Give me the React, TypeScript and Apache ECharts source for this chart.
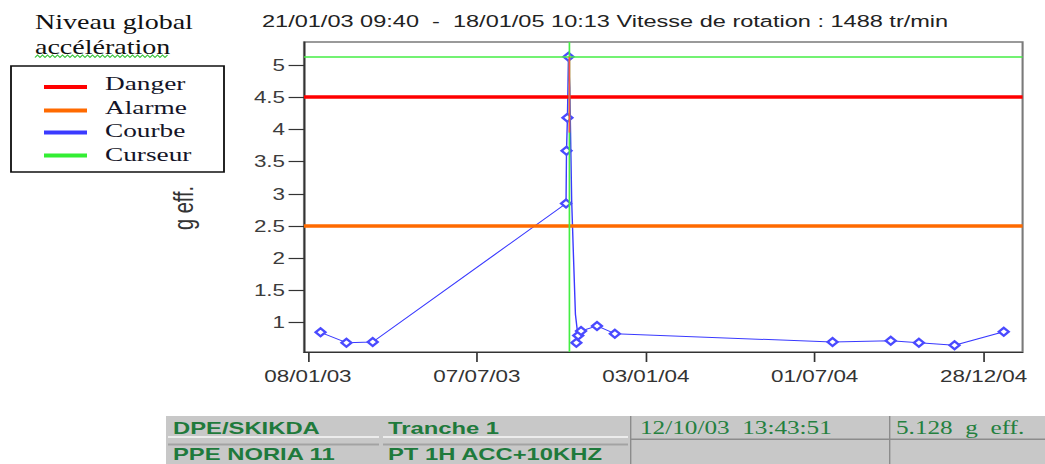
import React, { useEffect, useRef } from "react";
import * as echarts from "echarts";

// Horizontal stretch of the reference picture (text and marks are widened)
const FULL_W = 1045;
const BASE_W = 746;
const H = 464;
const S = FULL_W / BASE_W;
const sx = (x: number) => x / S;

// ---------- data ----------
const headerText = "21/01/03 09:40  -  18/01/05 10:13 Vitesse de rotation : 1488 tr/min";
const chartTitleLines = ["Niveau global", "accélération"];
const legendNames = ["Danger", "Alarme", "Courbe", "Curseur"];
const legendColors = ["#ff0000", "#ff6a00", "#3a3aff", "#33ee33"];
const yAxisName = "g eff.";

const curveDates = [
  "2003-01-21T09:40:00Z",
  "2003-02-18T00:00:00Z",
  "2003-03-18T00:00:00Z",
  "2003-10-10T00:00:00Z",
  "2003-10-10T12:00:00Z",
  "2003-10-11T00:00:00Z",
  "2003-10-11T12:00:00Z",
  "2003-10-12T13:43:51Z",
  "2003-10-14T00:00:00Z",
  "2003-10-15T00:00:00Z",
  "2003-10-16T00:00:00Z",
  "2003-10-18T00:00:00Z",
  "2003-10-20T00:00:00Z",
  "2003-10-22T00:00:00Z",
  "2003-10-21T00:00:00Z",
  "2003-10-23T00:00:00Z",
  "2003-10-26T00:00:00Z",
  "2003-11-12T00:00:00Z",
  "2003-12-01T00:00:00Z",
  "2004-07-20T00:00:00Z",
  "2004-09-20T00:00:00Z",
  "2004-10-20T00:00:00Z",
  "2004-11-27T00:00:00Z",
  "2005-01-18T10:13:00Z",
];
const curveValues = [
  0.85, 0.69, 0.7, 2.85, 3.67, 3.92, 4.18, 5.128, 4.65, 3.78, 2.9, 2.0, 1.13, 0.88,
  0.69, 0.8, 0.87, 0.95, 0.83, 0.7, 0.72, 0.69, 0.65, 0.86,
];
const curveMarked = [
  true, true, true, true, true, false, true, true, false, false, false, false, false, false,
  true, true, true, true, true, true, true, true, true, true,
];

const dangerLevel = 4.5;
const alarmLevel = 2.5;
const cursorDate = "2003-10-12T13:43:51Z";
const cursorValue = 5.128;
const cursorTraceBottom = 3.95;

const yTicks = [1, 1.5, 2, 2.5, 3, 3.5, 4, 4.5, 5];
const xTickDates = ["2003-01-08", "2003-07-07", "2004-01-03", "2004-07-01", "2004-12-28"];
const xMin = "2003-01-03T18:00:00Z";
const xMax = "2005-02-07T12:00:00Z";
const yMin = 0.545;
const yMax = 5.357;

const tableRow1 = ["DPE/SKIKDA", "Tranche 1", "12/10/03  13:43:51", "5.128  g  eff."];
const tableRow2 = ["PPE NORIA 11", "PT 1H ACC+10KHZ", "", ""];

// ---------- helpers ----------
const pad = (n: number) => (n < 10 ? "0" + n : "" + n);
const fmtDate = (v: number) => {
  const d = new Date(v);
  return pad(d.getUTCDate()) + "/" + pad(d.getUTCMonth() + 1) + "/" + pad(d.getUTCFullYear() % 100);
};

const SANS = '"Liberation Sans", Arial, sans-serif';
const SERIF = '"Liberation Serif", "Times New Roman", serif';

export default function App() {
  const ref = useRef<HTMLDivElement>(null);

  useEffect(() => {
    if (!ref.current) return;
    const chart = echarts.init(ref.current, undefined, { renderer: "svg" });
    const cursorTs = Date.parse(cursorDate);
    const xTicks = xTickDates.map((d) => Date.parse(d));

    const graphics: any[] = [];
    graphics.push({
      type: "text",
      x: sx(262),
      y: 21,
      style: { text: headerText, font: `16.8px ${SANS}`, fill: "#222", textVerticalAlign: "middle" },
    });
    chartTitleLines.forEach((t, i) => {
      graphics.push({
        type: "text",
        x: sx(35),
        y: 22 + i * 25,
        style: { text: t, font: `20px ${SERIF}`, fill: "#111", textVerticalAlign: "middle" },
      });
    });
    const squig: number[][] = [];
    for (let x = 35, k = 0; x <= 168; x += 2.5, k++) squig.push([sx(x), k % 2 ? 55 : 57.5]);
    graphics.push({ type: "polyline", shape: { points: squig }, style: { stroke: "#3ec43e", lineWidth: 1, fill: null } });
    graphics.push({
      type: "rect",
      shape: { x: sx(11), y: 66, width: sx(224) - sx(11), height: 106 },
      style: { fill: "#fff", stroke: "#111", lineWidth: 1.3 },
    });
    const lineYs = [87, 110.5, 132.5, 155.5];
    const textYs = [83.5, 107, 130, 154];
    legendNames.forEach((n, i) => {
      graphics.push({
        type: "line",
        shape: { x1: sx(44), y1: lineYs[i], x2: sx(87), y2: lineYs[i] },
        style: { stroke: legendColors[i], lineWidth: 4 },
      });
      graphics.push({
        type: "text",
        x: sx(105),
        y: textYs[i],
        style: { text: n, font: `19.5px ${SERIF}`, fill: "#141428", textVerticalAlign: "middle" },
      });
    });
    graphics.push({
      type: "text",
      x: sx(183),
      y: 208,
      rotation: Math.PI / 2,
      style: { text: yAxisName, font: `20px ${SANS}`, fill: "#333", textAlign: "center", textVerticalAlign: "middle" },
    });
    graphics.push({
      type: "rect",
      shape: { x: sx(166), y: 416, width: BASE_W - sx(166), height: 48 },
      style: { fill: "#c8c8c8" },
    });
    const cellX = [168, 383, 632, 892];
    const cellEnd = [379, 628, 890, 1045];
    [0, 1].forEach((c) => {
      graphics.push({
        type: "rect",
        shape: { x: sx(cellX[c]), y: 436, width: sx(cellEnd[c]) - sx(cellX[c]), height: 2 },
        style: { fill: "#ececec" },
      });
      graphics.push({
        type: "rect",
        shape: { x: sx(cellX[c]), y: 443.5, width: sx(cellEnd[c]) - sx(cellX[c]), height: 2 },
        style: { fill: "#a3a3a3" },
      });
    });
    graphics.push({
      type: "rect",
      shape: { x: sx(630), y: 438.5, width: BASE_W - sx(630), height: 1.5 },
      style: { fill: "#8c8c8c" },
    });
    [630, 889].forEach((x) => {
      graphics.push({
        type: "rect",
        shape: { x: sx(x), y: 416, width: 1, height: 48 },
        style: { fill: "#8c8c8c" },
      });
    });
    const textX = [173, 388, 640, 896];
    [tableRow1, tableRow2].forEach((row, r) => {
      row.forEach((t, c) => {
        if (!t) return;
        const serif = c >= 2;
        graphics.push({
          type: "text",
          x: sx(textX[c]),
          y: r === 0 ? 428 : 454,
          style: {
            text: t,
            font: serif ? `18px ${SERIF}` : `bold 17px ${SANS}`,
            fill: serif ? "#24803f" : "#1f7a3c",
            textVerticalAlign: "middle",
          },
        });
      });
    });

    chart.setOption({
      animation: false,
      backgroundColor: "#ffffff",
      grid: {
        left: 217,
        right: 16,
        top: 42,
        bottom: 112,
        show: true,
        backgroundColor: "#ffffff",
        borderColor: "#7a7a7a",
        borderWidth: 1.5,
      },
      xAxis: {
        type: "value",
        min: Date.parse(xMin),
        max: Date.parse(xMax),
        axisLine: { show: true, onZero: false, lineStyle: { color: "#333", width: 1.2 } },
        axisTick: { show: true, customValues: xTicks, length: 10, lineStyle: { color: "#333", width: 1.2 } },
        axisLabel: {
          customValues: xTicks,
          formatter: (v: number) => fmtDate(v),
          fontSize: 16,
          fontFamily: SANS,
          color: "#333",
          margin: 16,
        },
        splitLine: { show: false },
      },
      yAxis: {
        type: "value",
        min: yMin,
        max: yMax,
        axisLine: { show: true, onZero: false, lineStyle: { color: "#333", width: 1.2 } },
        axisTick: { show: true, customValues: yTicks, length: 11, lineStyle: { color: "#333", width: 1.2 } },
        axisLabel: {
          customValues: yTicks,
          fontSize: 16,
          fontFamily: SANS,
          color: "#3c3c3c",
          margin: 13.5,
        },
        splitLine: { show: false },
      },
      series: [
        {
          type: "line",
          name: "Courbe",
          z: 2,
          showAllSymbol: true,
          symbolSize: [7, 8],
          data: curveDates.map((d, i) => ({
            value: [Date.parse(d), curveValues[i]],
            symbol: curveMarked[i] ? "emptyDiamond" : "none",
          })),
          lineStyle: { color: "#3a3aff", width: 1 },
          itemStyle: { color: "#4a4aff", borderWidth: 1 },
        },
        {
          type: "line",
          name: "Seuils",
          z: 3,
          data: [],
          silent: true,
          markLine: {
            silent: true,
            symbol: "none",
            label: { show: false },
            data: [
              { yAxis: dangerLevel, lineStyle: { color: "#ff0000", width: 3.5, type: "solid" } },
              { yAxis: alarmLevel, lineStyle: { color: "#ff6a00", width: 3.5, type: "solid" } },
              { yAxis: cursorValue, lineStyle: { color: "#44ee44", width: 1.5, type: "solid" } },
              { xAxis: cursorTs, lineStyle: { color: "#44ee44", width: 1.2, type: "solid" } },
              [
                { coord: [cursorTs, cursorValue], lineStyle: { color: "#ff4a4a", width: 1.2, type: "solid" } },
                { coord: [cursorTs, cursorTraceBottom] },
              ],
            ],
          },
        },
      ],
      graphic: graphics,
    });

    return () => chart.dispose();
  }, []);

  return (
    <div
      style={{
        position: "absolute",
        left: 0,
        top: 0,
        width: FULL_W,
        height: H,
        overflow: "hidden",
        background: "#fff",
      }}
    >
      <div
        ref={ref}
        style={{
          width: BASE_W,
          height: H,
          transform: `scaleX(${S})`,
          transformOrigin: "0 0",
        }}
      />
    </div>
  );
}
